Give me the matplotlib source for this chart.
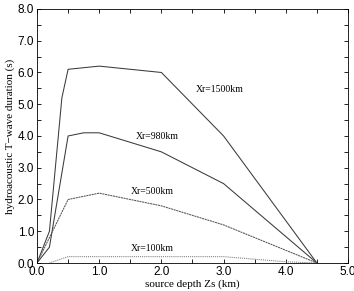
import matplotlib
matplotlib.use('Agg')
import matplotlib.pyplot as plt
from matplotlib.ticker import MultipleLocator, FormatStrFormatter

# source depth (km) vs T-wave duration (s) for each range Xr
x_1500 = [0.0, 0.2, 0.4, 0.5, 1.0, 2.0, 3.0, 4.5]
y_1500 = [0.0, 1.0, 5.2, 6.1, 6.2, 6.0, 4.0, 0.0]

x_980 = [0.0, 0.2, 0.5, 0.75, 1.0, 2.0, 3.0, 4.5]
y_980 = [0.0, 0.5, 4.0, 4.1, 4.1, 3.5, 2.5, 0.0]

x_500 = [0.0, 0.5, 1.0, 2.0, 3.0, 4.5]
y_500 = [0.0, 2.0, 2.2, 1.8, 1.2, 0.0]

x_100 = [0.2, 0.5, 1.0, 3.0, 4.0, 4.5]
y_100 = [0.0, 0.2, 0.2, 0.2, 0.04, 0.0]

labels = ['Xr=1500km', 'Xr=980km', 'Xr=500km', 'Xr=100km']
label_x = [2.94, 1.93, 1.85, 1.85]
label_y = [5.45, 3.98, 2.24, 0.47]

fig = plt.figure(figsize=(3.54, 2.91), dpi=100)
ax = fig.add_axes([0.1045, 0.0962, 0.8785, 0.873])

ax.plot(x_1500, y_1500, color='#3a3a3a', lw=0.75)
ax.plot(x_980, y_980, color='#3a3a3a', lw=0.75)
ax.plot(x_500, y_500, color='#555555', lw=0.75, linestyle=(0, (2, 0.6)))
ax.plot(x_100, y_100, color='#777777', lw=0.75, linestyle=(0, (1, 1)))

for txt, lx, ly in zip(labels, label_x, label_y):
    ax.text(lx, ly, txt, fontsize=7, family='Liberation Serif', ha='center', va='center')

ax.set_xlim(0, 5)
ax.set_ylim(0, 8)
ax.xaxis.set_major_locator(MultipleLocator(1.0))
ax.xaxis.set_minor_locator(MultipleLocator(0.5))
ax.yaxis.set_major_locator(MultipleLocator(1.0))
ax.yaxis.set_minor_locator(MultipleLocator(0.5))
ax.xaxis.set_major_formatter(FormatStrFormatter('%.1f'))
ax.yaxis.set_major_formatter(FormatStrFormatter('%.1f'))
ax.tick_params(which='both', direction='in', top=True, right=True, length=3, width=0.6)
ax.tick_params(labelsize=8.5, pad=2)
for lab in ax.get_xticklabels() + ax.get_yticklabels():
    lab.set_family('Liberation Sans')
for s in ax.spines.values():
    s.set_linewidth(0.6)

ax.set_xlabel('source depth Zs (km)', fontsize=8, family='Liberation Serif', labelpad=1)
ax.set_ylabel('hydroacoustic T\u2212wave duration (s)', fontsize=8, family='Liberation Serif', labelpad=2)

fig.savefig('out.png', dpi=100)
